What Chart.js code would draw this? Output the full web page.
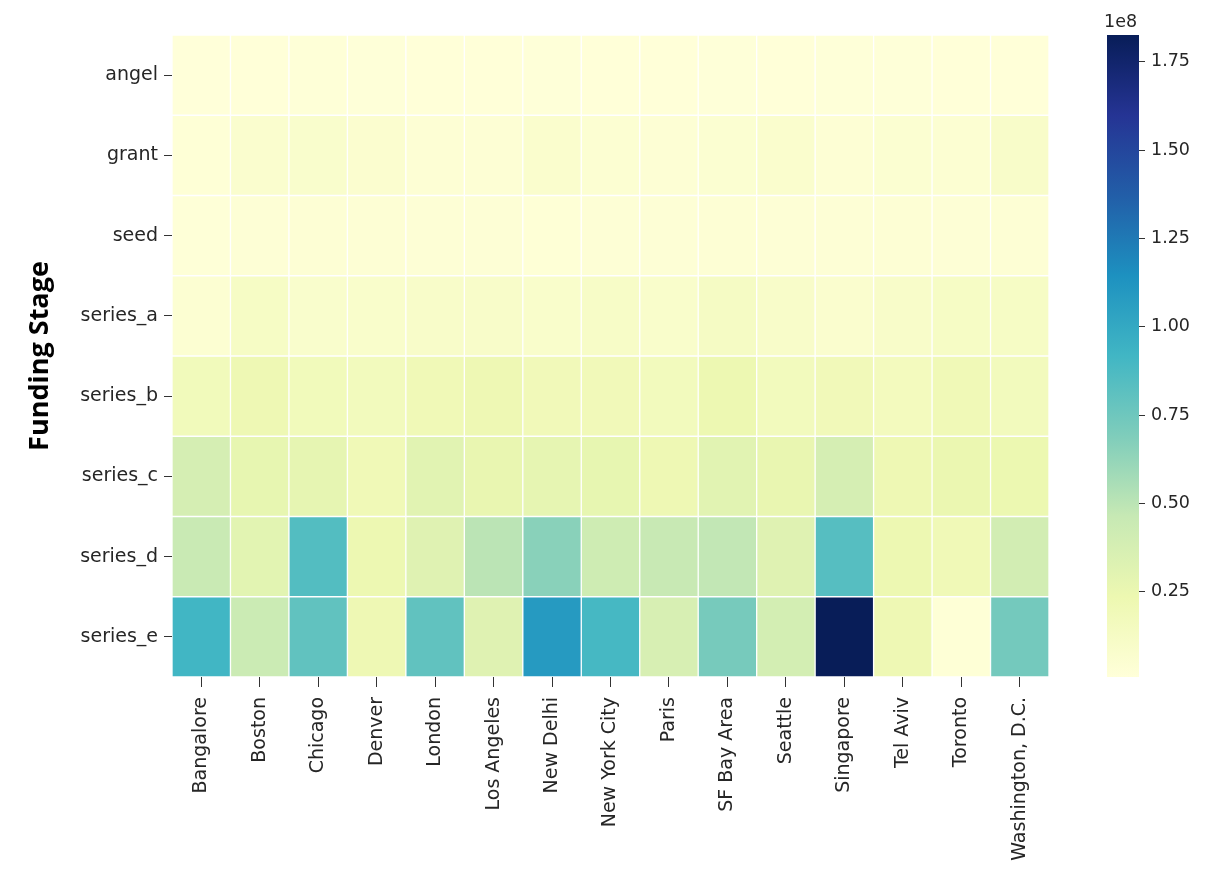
<!DOCTYPE html>
<html>
<head>
<meta charset="utf-8">
<title>Funding by stage and city</title>
<script src="https://cdn.jsdelivr.net/npm/chart.js@4.4.1/dist/chart.umd.min.js"></script>
<style>
  body { margin: 0; background: #fff; }
  #wrap { position: relative; width: 1210px; height: 869px; }
  #heat { position: absolute; left: 0; top: 0; }
  #bar { position: absolute; left: 1080px; top: 0; }
</style>
</head>
<body>
<div id="wrap">
  <canvas id="heat" width="1080" height="869"></canvas>
  <canvas id="bar" width="130" height="869"></canvas>
</div>
<script>
'use strict';

let cities = ['Bangalore', 'Boston', 'Chicago', 'Denver', 'London', 'Los Angeles', 'New Delhi',
  'New York City', 'Paris', 'SF Bay Area', 'Seattle', 'Singapore', 'Tel Aviv', 'Toronto', 'Washington, D.C.'];

let stages = ['angel', 'grant', 'seed', 'series_a', 'series_b', 'series_c', 'series_d', 'series_e'];

// average raised per stage, millions of USD, one value per city (same order as cities)
let angel = [0.9, 1.5, 1.8, 1.6, 1.4, 1.5, 1.6, 1.5, 1.4, 1.7, 1.5, 1.6, 1.6, 1.5, 1.5];
let grant = [2.5, 7, 8, 6.5, 4, 3.5, 7.5, 5, 4, 5.5, 7.5, 4, 5.5, 5, 10];
let seed = [2, 3, 3.5, 4, 3, 3, 2.5, 3, 3, 3.5, 3, 3, 3.5, 3, 3.5];
let seriesA = [5, 12, 8, 9, 10, 10, 9, 11, 9, 13, 10, 7, 10, 12, 12];
let seriesB = [18, 22, 18, 17, 20, 22, 19, 19, 17, 23, 17, 19, 16, 20, 17];
let seriesC = [38, 27, 28, 20, 31, 26, 28, 27, 22, 31, 26, 38, 22, 25, 24];
let seriesD = [45, 30, 85, 23, 32, 50, 66, 42, 46, 48, 32, 84, 23, 20, 40];
let seriesE = [92, 44, 80, 22, 80, 32, 109, 90, 37, 72, 39, 182.6, 22, 2.5, 73];

let rows = [angel, grant, seed, seriesA, seriesB, seriesC, seriesD, seriesE];

// colorbar ticks (millions) and the offset text shown above it
let barTicks = [25, 50, 75, 100, 125, 150, 175];
let barOffsetText = '1e8';

// YlGnBu
let ylGnBu = [
  [255, 255, 217], [237, 248, 177], [199, 233, 180], [127, 205, 187], [65, 182, 196],
  [29, 145, 192], [34, 94, 168], [37, 52, 148], [8, 29, 88]
];

let allValues = rows.flat();
let vmin = Math.min(...allValues);
let vmax = Math.max(...allValues);

function colorAt(f) {
  f = Math.max(0, Math.min(1, f));
  let pos = f * (ylGnBu.length - 1);
  let i = Math.min(Math.floor(pos), ylGnBu.length - 2);
  let t = pos - i;
  let a = ylGnBu[i];
  let b = ylGnBu[i + 1];
  let c = a.map((v, k) => Math.round(v + (b[k] - v) * t));
  return `rgb(${c[0]}, ${c[1]}, ${c[2]})`;
}

function colorFor(value) {
  return colorAt((value - vmin) / (vmax - vmin));
}

const textColor = '#262626';
const labelFont = { family: 'DejaVu Sans', size: 19 };
const barFont = { family: 'DejaVu Sans', size: 17.5 };

// heatmap: one dataset per stage, each cell is a floating bar [row, row + 1]
let heatDatasets = [];
for (let r = 0; r < stages.length; r++) {
  heatDatasets.push({
    label: stages[r],
    data: cities.map(() => [r, r + 1]),
    backgroundColor: rows[r].map(colorFor),
    borderColor: '#ffffff',
    borderWidth: 1,
    borderSkipped: false,
    grouped: false,
    barPercentage: 1,
    categoryPercentage: 1
  });
}

let heatChart = new Chart(document.getElementById('heat'), {
  type: 'bar',
  data: {
    labels: cities,
    datasets: heatDatasets
  },
  options: {
    responsive: false,
    animation: false,
    events: [],
    layout: {
      padding: { top: 35, right: 31, bottom: 0, left: 0 }
    },
    plugins: {
      legend: { display: false },
      tooltip: { enabled: false }
    },
    scales: {
      x: {
        type: 'category',
        offset: true,
        border: { display: false },
        grid: {
          offset: false,
          drawOnChartArea: false,
          tickLength: 10,
          tickColor: '#333333'
        },
        ticks: {
          maxRotation: 90,
          minRotation: 90,
          autoSkip: false,
          padding: 10,
          color: textColor,
          font: labelFont
        },
        afterFit: function (scale) {
          scale.height = 192;
        }
      },
      y: {
        type: 'linear',
        min: 0,
        max: stages.length,
        reverse: true,
        border: { display: false },
        grid: {
          drawOnChartArea: false,
          tickLength: 8,
          tickColor: '#333333'
        },
        afterBuildTicks: function (scale) {
          scale.ticks = stages.map((s, i) => ({ value: i + 0.5 }));
        },
        ticks: {
          autoSkip: false,
          padding: 6,
          color: textColor,
          font: labelFont,
          callback: function (value) {
            return stages[Math.floor(value)];
          }
        },
        title: {
          display: true,
          text: 'Funding Stage',
          color: '#000000',
          font: { family: 'Open Sans', size: 27, weight: 'bold' },
          padding: { top: 24, bottom: 0 }
        },
        afterFit: function (scale) {
          scale.width = 172;
        }
      }
    }
  }
});

// colorbar
let offsetTextPlugin = {
  id: 'offsetText',
  afterDraw: function (chart) {
    let area = chart.chartArea;
    let ctx = chart.ctx;
    ctx.save();
    ctx.fillStyle = textColor;
    ctx.font = '17.5px "DejaVu Sans"';
    ctx.textAlign = 'left';
    ctx.textBaseline = 'bottom';
    ctx.fillText(barOffsetText, area.left - 3, area.top - 4);
    ctx.restore();
  }
};

function barGradient(context) {
  let chart = context.chart;
  let area = chart.chartArea;
  if (!area) {
    return null;
  }
  let g = chart.ctx.createLinearGradient(0, area.bottom, 0, area.top);
  for (let i = 0; i < ylGnBu.length; i++) {
    let f = i / (ylGnBu.length - 1);
    g.addColorStop(f, colorAt(f));
  }
  return g;
}

let barChart = new Chart(document.getElementById('bar'), {
  type: 'bar',
  data: {
    labels: [''],
    datasets: [{
      data: [[vmin, vmax]],
      backgroundColor: barGradient,
      borderWidth: 0,
      barPercentage: 1,
      categoryPercentage: 1
    }]
  },
  options: {
    responsive: false,
    animation: false,
    events: [],
    layout: {
      padding: { top: 35, right: 11, bottom: 192, left: 27 }
    },
    plugins: {
      legend: { display: false },
      tooltip: { enabled: false }
    },
    scales: {
      x: { display: false },
      y: {
        type: 'linear',
        position: 'right',
        min: vmin,
        max: vmax,
        border: { display: false },
        grid: {
          drawOnChartArea: false,
          tickLength: 6,
          tickColor: '#333333'
        },
        afterBuildTicks: function (scale) {
          scale.ticks = barTicks.map((v) => ({ value: v }));
        },
        ticks: {
          autoSkip: false,
          padding: 6,
          color: textColor,
          font: barFont,
          callback: function (value) {
            return (value / 100).toFixed(2);
          }
        },
        afterFit: function (scale) {
          scale.width = 60;
        }
      }
    }
  },
  plugins: [offsetTextPlugin]
});
</script>
</body>
</html>
